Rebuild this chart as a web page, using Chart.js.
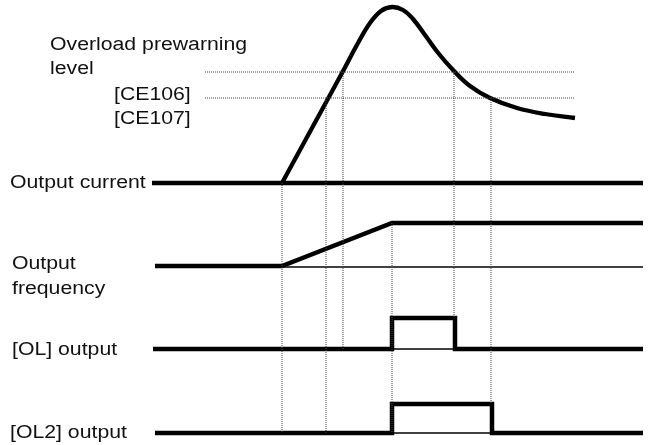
<!DOCTYPE html>
<html>
<head>
<meta charset="utf-8">
<script src="https://cdn.jsdelivr.net/npm/chart.js@4.4.1/dist/chart.umd.min.js"></script>
<style>
  html, body { margin: 0; padding: 0; background: #fff; }
  #wrap { width: 653px; height: 445px; }
</style>
</head>
<body>
<div id="wrap"><canvas id="chart" width="653" height="445"></canvas></div>
<script>
// time axis runs left to right, level axis runs top to bottom (reversed)
const currentBase = [[152, 183], [643, 183]];
const currentCurve = [
  [282, 183], [312, 128], [342, 73], [358, 43], [370, 23], [381, 11], [392, 7],
  [403, 10], [413, 19], [425, 35], [439, 54], [454, 71], [470, 86], [490, 98],
  [517, 108], [545, 114], [575, 118]
];
const freqRef = [[282, 267], [643, 267]];
const freqWave = [[155, 266], [282, 266], [392, 223], [643, 223]];
const olRef = [[392, 349], [455, 349]];
const olWave = [[153, 349], [392, 349], [392, 318], [455, 318], [455, 349], [643, 349]];
const ol2Ref = [[392, 433], [492, 433]];
const ol2Wave = [[155, 433], [392, 433], [392, 404], [492, 404], [492, 433], [643, 433]];

// warning levels and the crossings that drop down to the signals
const levelLines = [[[205, 72], [575, 72]], [[205, 98], [575, 98]]];
const guideLines = [
  [[282, 183], [282, 433]],
  [[326, 98], [326, 433]],
  [[343, 72], [343, 349]],
  [[392, 223], [392, 433]],
  [[454, 72], [454, 318]],
  [[491, 98], [491, 404]]
];

const labelTexts = ['Overload prewarning', 'level', '[CE106]', '[CE107]', 'Output current',
  'Output', 'frequency', '[OL] output', '[OL2] output'];
const labelAt = [[50, 45], [50, 69], [114, 95], [114, 119], [10, 183],
  [12, 264], [12, 289], [12, 350], [10, 433]];

const pts = arr => arr.map(p => ({ x: p[0], y: p[1] }));

const dotted = arr => ({
  data: pts(arr), borderColor: '#444', borderWidth: 1, borderDash: [1, 1],
  pointRadius: 0, tension: 0
});
const thick = (arr, w) => ({
  data: pts(arr), borderColor: '#000', borderWidth: w, pointRadius: 0, tension: 0,
  borderJoinStyle: 'miter', borderCapStyle: 'butt'
});

const datasets = [];
levelLines.forEach(l => datasets.push(dotted(l)));
guideLines.forEach(l => datasets.push(dotted(l)));
datasets.push(thick(freqRef, 1.6));
datasets.push(thick(olRef, 1.6));
datasets.push(thick(ol2Ref, 1.6));
datasets.push(thick(currentBase, 4.5));
datasets.push(Object.assign(thick(currentCurve, 4.3), { tension: 0.4, borderJoinStyle: 'round' }));
datasets.push(thick(freqWave, 4.5));
datasets.push(thick(olWave, 4.5));
datasets.push(thick(ol2Wave, 4.5));

const labelPlugin = {
  id: 'labels',
  afterDraw(chart) {
    const ctx = chart.ctx;
    const xs = chart.scales.x, ys = chart.scales.y;
    ctx.save();
    ctx.fillStyle = '#111';
    ctx.font = '18px "Liberation Sans", Arial, sans-serif';
    ctx.textBaseline = 'middle';
    labelTexts.forEach((t, i) => {
      ctx.save();
      ctx.translate(xs.getPixelForValue(labelAt[i][0]), ys.getPixelForValue(labelAt[i][1]));
      ctx.scale(1.18, 1);
      ctx.fillText(t, 0, 0);
      ctx.restore();
    });
    ctx.restore();
  }
};

new Chart(document.getElementById('chart'), {
  type: 'line',
  data: { datasets },
  options: {
    responsive: false,
    animation: false,
    clip: false,
    layout: { padding: 0 },
    plugins: { legend: { display: false }, tooltip: { enabled: false } },
    scales: {
      x: { type: 'linear', min: 0, max: 653, display: false },
      y: { type: 'linear', min: 0, max: 445, reverse: true, display: false }
    }
  },
  plugins: [labelPlugin]
});
</script>
</body>
</html>
